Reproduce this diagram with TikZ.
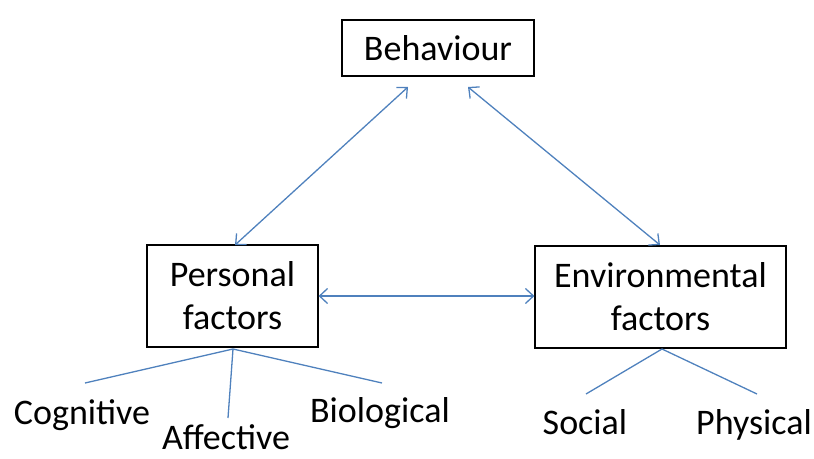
\documentclass[tikz,border=0pt]{standalone}
\usepackage{fontspec}
\setmainfont{Carlito}
\usetikzlibrary{arrows.meta}
\definecolor{linkblue}{RGB}{79,129,189}
\tikzset{
  box/.style={draw=black, line width=1.2pt, align=center, inner sep=0pt, font=\fontsize{36}{43}\selectfont},
  leaf/.style={inner sep=0pt, anchor=base, font=\fontsize{36}{43}\selectfont},
  link/.style={draw=linkblue, line width=1.3pt},
  biarrow/.style={link, {Straight Barb[length=8pt,width=15pt]}-{Straight Barb[length=8pt,width=15pt]}}
}
\begin{document}
\begin{tikzpicture}[x=1pt,y=-1pt]
\useasboundingbox (0,0) rectangle (814,458);
\node[box, minimum width=192pt, minimum height=56pt] (beh) at (438,48) {Behaviour};
\node[box, minimum width=171pt, minimum height=102pt] (pers) at (232.5,296) {Personal\\factors};
\node[box, minimum width=251pt, minimum height=102pt] (env) at (660.5,297) {Environmental\\factors};
\coordinate (bl) at (408,87);
\coordinate (br) at (468,87);
\coordinate (pt) at (235,245);
\coordinate (et) at (660,245);
\draw[biarrow] (bl) -- (pt);
\draw[biarrow] (br) -- (et);
\draw[biarrow] (pers.east) -- (env.west |- pers.east);
\node[leaf] (cog) at (82,424) {Cognitive};
\node[leaf] (aff) at (226,449) {Affective};
\node[leaf] (bio) at (380,422) {Biological};
\node[leaf] (soc) at (585,434) {Social};
\node[leaf] (phy) at (754,434) {Physical};
\coordinate (po) at (233,349);
\coordinate (eo) at (662,349);
\coordinate (cogt) at (85,383);
\coordinate (afft) at (228,418);
\coordinate (biot) at (382,383);
\coordinate (soct) at (586,394);
\coordinate (phyt) at (757,394);
\draw[link] (po) -- (cogt);
\draw[link] (po) -- (afft);
\draw[link] (po) -- (biot);
\draw[link] (eo) -- (soct);
\draw[link] (eo) -- (phyt);
\end{tikzpicture}
\end{document}
